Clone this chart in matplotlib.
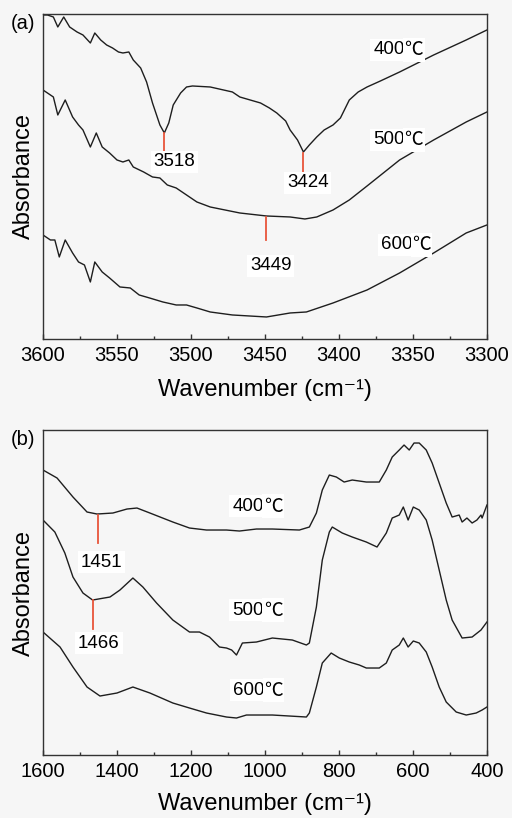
import matplotlib.pyplot as plt
from matplotlib.ticker import MultipleLocator
from matplotlib.transforms import offset_copy

# ---- panel (a): O-H stretching region ----
wn_a_400 = [3600, 3597, 3593, 3590, 3586, 3582, 3577, 3573, 3568, 3565, 3561, 3557, 3553, 3549, 3546,
            3542, 3539, 3534, 3530, 3526, 3521, 3518, 3515, 3512, 3507, 3503, 3499, 3487, 3472, 3467,
            3453, 3447, 3442, 3436, 3433, 3428, 3426, 3424, 3420, 3415, 3410, 3404, 3399, 3393, 3387,
            3381, 3372, 3359, 3336, 3314, 3300]
ab_a_400 = [324, 324, 322, 312, 322, 312, 307, 304, 296, 306, 299, 294, 291, 287, 286,
            287, 279, 271, 257, 236, 214, 206, 216, 234, 246, 252, 253, 252, 247, 242,
            236, 231, 226, 218, 209, 199, 193, 187, 194, 202, 209, 214, 221, 239, 247,
            252, 258, 267, 284, 299, 309]

wn_a_500 = [3600, 3595, 3593, 3590, 3585, 3580, 3576, 3573, 3568, 3564, 3560, 3555, 3550, 3546, 3542,
            3539, 3532, 3526, 3521, 3516, 3510, 3503, 3496, 3487, 3467, 3449, 3433, 3423, 3415, 3404,
            3393, 3381, 3359, 3336, 3314, 3300]
ab_a_500 = [249, 244, 242, 224, 239, 222, 214, 209, 192, 206, 192, 186, 179, 177, 179,
            172, 167, 162, 161, 154, 151, 144, 137, 132, 126, 123, 122, 120, 122, 129,
            139, 153, 179, 199, 217, 227]

wn_a_600 = [3600, 3595, 3592, 3589, 3585, 3580, 3576, 3572, 3568, 3565, 3560, 3555, 3548, 3541, 3535,
            3528, 3519, 3510, 3503, 3496, 3487, 3472, 3449, 3433, 3422, 3404, 3381, 3359, 3336, 3314,
            3300]
ab_a_600 = [104, 99, 99, 82, 99, 86, 77, 74, 57, 77, 67, 61, 52, 51, 44,
            41, 37, 34, 34, 31, 27, 24, 22, 26, 27, 36, 49, 66, 86, 106,
            114]

# ---- panel (b): fingerprint region ----
wn_b_400 = [1600, 1562, 1519, 1481, 1454, 1411, 1373, 1346, 1311, 1249, 1204, 1158, 1104, 1069, 1023,
            980, 907, 880, 861, 845, 826, 807, 786, 764, 726, 691, 672, 656, 637, 624,
            610, 597, 583, 564, 548, 529, 510, 494, 475, 467, 454, 440, 427, 416, 413, 400]
ab_b_400 = [285, 277, 258, 243, 241, 242, 246, 247, 242, 233, 227, 225, 225, 224, 226,
            226, 225, 228, 242, 265, 280, 278, 273, 275, 273, 273, 285, 298, 305, 310,
            305, 312, 312, 305, 292, 272, 252, 238, 240, 233, 237, 232, 235, 240, 237, 250]

wn_b_500 = [1600, 1568, 1541, 1519, 1492, 1466, 1419, 1392, 1357, 1330, 1293, 1249, 1204, 1177, 1150,
            1123, 1104, 1090, 1077, 1061, 1023, 980, 926, 888, 880, 861, 845, 826, 818, 791,
            764, 726, 697, 672, 656, 637, 626, 613, 599, 583, 564, 548, 529, 510, 494,
            467, 440, 416, 400]
ab_b_500 = [235, 223, 202, 178, 162, 155, 158, 165, 177, 168, 152, 135, 123, 123, 118,
            108, 107, 105, 100, 112, 113, 117, 115, 110, 112, 148, 195, 223, 228, 222,
            218, 213, 208, 222, 237, 240, 248, 235, 248, 245, 235, 215, 185, 155, 135,
            117, 118, 125, 133]

wn_b_600 = [1600, 1554, 1519, 1481, 1446, 1400, 1357, 1311, 1249, 1204, 1158, 1104, 1077, 1050, 980,
            888, 880, 861, 845, 821, 799, 772, 745, 726, 691, 672, 656, 637, 626, 613,
            599, 583, 564, 548, 529, 510, 483, 456, 429, 413, 400]
ab_b_600 = [123, 108, 88, 68, 59, 62, 68, 62, 52, 47, 42, 38, 37, 40, 40,
            38, 42, 68, 92, 102, 97, 93, 90, 87, 87, 92, 105, 110, 117, 108,
            114, 112, 103, 88, 68, 53, 43, 40, 42, 45, 48]

temps = ["400", "500", "600"]

# peak markers: (wavenumber, y top, y bottom, label x, label y)
marks_a = [(3518, 206, 186, 3511, 177), (3424, 186, 167, 3421, 156), (3449, 122, 99, 3446, 73)]
marks_b = [(1451, 240, 212, 1441, 193), (1466, 155, 126, 1449, 112)]
temp_pos_a = [(3359, 289), (3359, 199), (3354, 94)]
temp_pos_b = [(1017, 249), (1017, 145), (1015, 65)]

bg = "#f6f6f6"
red = "#e8553a"
box = dict(facecolor="white", edgecolor="none", pad=2)
plt.rcParams["font.family"] = ["Liberation Sans", "Noto Sans CJK SC", "DejaVu Sans"]

fig = plt.figure(figsize=(5.12, 8.18), dpi=100, facecolor=bg)
ax_a = fig.add_axes([0.084, 0.5856, 0.867, 0.3973], facecolor=bg)
ax_b = fig.add_axes([0.084, 0.077, 0.867, 0.3973], facecolor=bg)

for x, y in [(wn_a_400, ab_a_400), (wn_a_500, ab_a_500), (wn_a_600, ab_a_600)]:
    ax_a.plot(x, y, color="#1e1e1e", lw=1.0)
for x, y in [(wn_b_400, ab_b_400), (wn_b_500, ab_b_500), (wn_b_600, ab_b_600)]:
    ax_b.plot(x, y, color="#1e1e1e", lw=1.0)

for ax, marks, tpos in [(ax_a, marks_a, temp_pos_a), (ax_b, marks_b, temp_pos_b)]:
    for w, y0, y1, lx, ly in marks:
        ax.plot([w, w], [y0, y1], color=red, lw=1.3)
        ax.text(lx, ly, str(w), fontsize=13.5, ha="center", va="center", bbox=box)
    # number in Arial-like font, the ℃ sign from the CJK font (as in the original)
    split = offset_copy(ax.transData, fig=fig, x=5, y=0, units="dots")
    for t, (tx, ty) in zip(temps, tpos):
        ax.text(tx, ty, t, fontsize=13.5, ha="right", va="center", transform=split,
                bbox=dict(facecolor="white", edgecolor="none", pad=2))
        ax.text(tx, ty, "℃", fontsize=13.5, ha="left", va="center", transform=split,
                family=["Noto Sans CJK SC", "DejaVu Sans"],
                bbox=dict(facecolor="white", edgecolor="none", pad=1))

ax_a.set_xlim(3600, 3300)
ax_a.xaxis.set_major_locator(MultipleLocator(50))
ax_a.xaxis.set_minor_locator(MultipleLocator(25))
ax_b.set_xlim(1600, 400)
ax_b.xaxis.set_major_locator(MultipleLocator(200))
ax_b.xaxis.set_minor_locator(MultipleLocator(100))

for ax, tag, ly in [(ax_a, "(a)", -0.157), (ax_b, "(b)", -0.151)]:
    ax.set_ylim(0, 325)
    ax.set_yticks([])
    for s in ax.spines.values():
        s.set_color("#333333")
        s.set_linewidth(1.0)
    ax.tick_params(axis="x", which="major", direction="in", length=3.5, width=1,
                   labelsize=14.5, pad=5, colors="#333333", labelcolor="black")
    ax.tick_params(axis="x", which="minor", direction="in", length=2, width=1, colors="#333333")
    ax.set_xlabel("Wavenumber (cm⁻¹)", fontsize=17, va="center")
    ax.xaxis.set_label_coords(0.5, ly)
    ax.set_ylabel("Absorbance", fontsize=17, labelpad=6)
    ax.text(-0.045, 0.97, tag, transform=ax.transAxes, fontsize=14.5,
            ha="center", va="center")

fig.savefig("out.png", dpi=100, facecolor=bg)
